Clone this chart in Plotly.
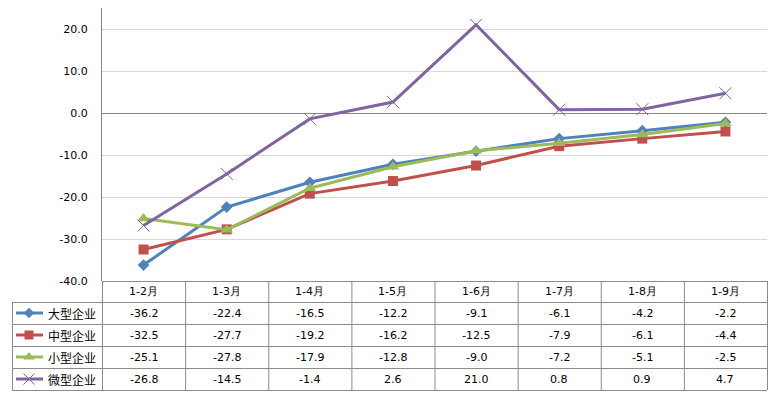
import plotly.graph_objects as go

categories = ["1-2月", "1-3月", "1-4月", "1-5月", "1-6月", "1-7月", "1-8月", "1-9月"]
series_names = ["大型企业", "中型企业", "小型企业", "微型企业"]
large = [-36.2, -22.4, -16.5, -12.2, -9.1, -6.1, -4.2, -2.2]
medium = [-32.5, -27.7, -19.2, -16.2, -12.5, -7.9, -6.1, -4.4]
small = [-25.1, -27.8, -17.9, -12.8, -9.0, -7.2, -5.1, -2.5]
micro = [-26.8, -14.5, -1.4, 2.6, 21.0, 0.8, 0.9, 4.7]
y_ticks = [-40, -30, -20, -10, 0, 10, 20]
y_tick_labels = ["-40.0", "-30.0", "-20.0", "-10.0", "0.0", "10.0", "20.0"]

series_values = [large, medium, small, micro]
colors = ["#4F81BD", "#C0504D", "#9BBB59", "#8064A2"]
symbols = ["diamond", "square", "triangle-up", "x-thin-open"]
msizes = [9, 10, 11, 12]

# page body has an 8px default margin; the figure is sized to fit the 777x395 window
OFF = 8
W, H = 777 - OFF, 395 - OFF
PX_L, PX_R, PX_T, PX_B = 102 - OFF, 767 - OFF, 8 - OFF, 281 - OFF
NUM_FONT = "DejaVu Sans, Verdana, sans-serif"
CJK_FONT = "Noto Sans CJK SC, sans-serif"

fig = go.Figure()
for name, vals, c, s, ms in zip(series_names, series_values, colors, symbols, msizes):
    mk = dict(symbol=s, size=ms, color=c)
    if s == "x-thin-open":
        mk["line"] = dict(color=c, width=1)
    fig.add_trace(go.Scatter(
        x=categories, y=vals, name=name, mode="lines+markers",
        line=dict(color=c, width=3), marker=mk, showlegend=False,
        xaxis="x", yaxis="y", cliponaxis=False))

# table geometry (pixel coordinates on a helper axis pair)
col_w = (PX_R - PX_L) / len(categories)
row_edges = [e - OFF for e in [281, 302, 324, 346, 368, 390]]
tbl_left = 12 - OFF
shapes = []
lc = "#8C8C8C"
def hline(x0, x1, y):
    shapes.append(dict(type="line", xref="x2", yref="y2", x0=x0, x1=x1, y0=y, y1=y,
                       line=dict(color=lc, width=1)))
def vline(x, y0, y1):
    shapes.append(dict(type="line", xref="x2", yref="y2", x0=x, x1=x, y0=y0, y1=y1,
                       line=dict(color=lc, width=1)))

hline(PX_L, PX_R, row_edges[0] + 0.5)
for y in row_edges[1:]:
    hline(tbl_left, PX_R, y + 0.5)
vline(tbl_left + 0.5, row_edges[1], row_edges[-1])
for i in range(len(categories) + 1):
    vline(PX_L + i * col_w + 0.5, row_edges[0], row_edges[-1])

annotations = []
for i, cat in enumerate(categories):
    annotations.append(dict(xref="x2", yref="y2", x=PX_L + (i + 0.5) * col_w,
                            y=(row_edges[0] + row_edges[1]) / 2, text=cat, showarrow=False,
                            font=dict(family=NUM_FONT, size=11, color="#000000")))
for r, (name, vals) in enumerate(zip(series_names, series_values)):
    yc = (row_edges[r + 1] + row_edges[r + 2]) / 2
    annotations.append(dict(xref="x2", yref="y2", x=46 - OFF, y=yc, text=name, showarrow=False,
                            xanchor="left",
                            font=dict(family=CJK_FONT, size=12, color="#000000")))
    for i, v in enumerate(vals):
        annotations.append(dict(xref="x2", yref="y2", x=PX_L + (i + 0.5) * col_w, y=yc,
                                text=f"{v:.1f}", showarrow=False,
                                font=dict(family=NUM_FONT, size=11, color="#000000")))
    # legend key
    c, s, ms = colors[r], symbols[r], msizes[r]
    fig.add_trace(go.Scatter(x=[16 - OFF, 29 - OFF, 43 - OFF], y=[yc, yc, yc], mode="lines",
                             line=dict(color=c, width=3), xaxis="x2", yaxis="y2",
                             showlegend=False, hoverinfo="skip"))
    mk = dict(symbol=s, size=ms - 1, color=c)
    if s == "x-thin-open":
        mk["line"] = dict(color=c, width=1)
    fig.add_trace(go.Scatter(x=[29 - OFF], y=[yc], mode="markers", marker=mk,
                             xaxis="x2", yaxis="y2", showlegend=False, hoverinfo="skip"))

fig.update_layout(
    width=W, height=H, margin=dict(l=0, r=0, t=0, b=0, pad=0, autoexpand=False),
    paper_bgcolor="white", plot_bgcolor="rgba(0,0,0,0)",
    xaxis=dict(domain=[PX_L / W, PX_R / W], showticklabels=False, showgrid=False,
               zeroline=False, showline=False, range=[-0.5, len(categories) - 0.5],
               automargin=False),
    yaxis=dict(domain=[1 - PX_B / H, 1 - PX_T / H], range=[-40, 25],
               tickvals=y_ticks, ticktext=y_tick_labels, showgrid=True, gridcolor="#D9D9D9",
               zeroline=True, zerolinecolor="#868686", zerolinewidth=1,
               showline=True, linecolor="#868686", linewidth=1, ticks="",
               ticklabelstandoff=11, automargin=False,
               tickfont=dict(family=NUM_FONT, size=11, color="#000000")),
    xaxis2=dict(domain=[0, 1], range=[0, W], visible=False, anchor="y2", fixedrange=True,
                automargin=False),
    yaxis2=dict(domain=[0, 1], range=[H, 0], visible=False, anchor="x2", fixedrange=True,
                automargin=False),
    shapes=shapes, annotations=annotations,
)

fig.write_html("out.html")
